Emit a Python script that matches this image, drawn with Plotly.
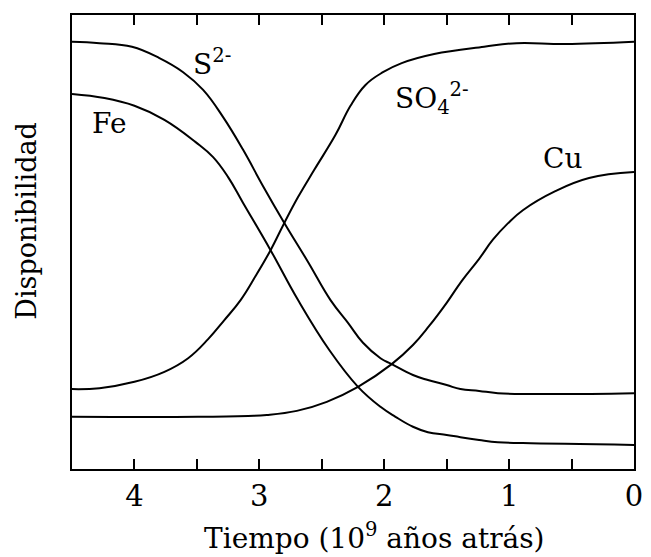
import plotly.graph_objects as go

# Time axis in 10^9 years before present, availability in arbitrary units (0-100)
s2_x = [4.50, 4.28, 4.02, 3.80, 3.61, 3.45, 3.29, 3.13, 2.97, 2.80, 2.61, 2.43,
        2.29, 2.17, 2.03, 1.94, 1.77, 1.65, 1.50, 1.39, 1.24, 1.09, 0.65, 0.0]
s2_y = [94.1, 93.8, 93.0, 90.5, 87.4, 83.5, 77.5, 70.3, 62.3, 54.2, 45.6, 37.2,
        32.2, 27.8, 24.4, 23.1, 20.7, 19.6, 18.5, 17.6, 17.2, 16.7, 16.5, 16.7]

fe_x = [4.50, 4.24, 4.00, 3.76, 3.51, 3.37, 3.25, 3.13, 2.91, 2.69, 2.44,
        2.21, 2.03, 1.91, 1.77, 1.65, 1.50, 1.39, 1.24, 1.09, 0.89, 0.0]
fe_y = [82.6, 81.7, 80.0, 76.9, 72.0, 68.7, 64.3, 58.6, 48.2, 37.2, 26.2,
        18.1, 13.7, 11.5, 9.3, 8.1, 7.5, 7.0, 6.4, 5.9, 5.7, 5.3]

so4_x = [4.50, 4.28, 4.00, 3.76, 3.57, 3.41, 3.28, 3.15, 3.03, 2.91, 2.80, 2.69,
         2.56, 2.39, 2.27, 2.15, 2.01, 1.86, 1.60, 1.20, 0.94, 0.55, 0.0]
so4_y = [17.6, 17.8, 19.2, 21.4, 24.4, 28.6, 32.8, 37.2, 42.5, 48.2, 54.2, 59.9,
         65.9, 73.6, 80.0, 84.6, 87.4, 89.4, 91.4, 93.0, 93.8, 93.6, 94.1]

cu_x = [4.50, 3.49, 3.09, 2.94, 2.70, 2.46, 2.21, 1.94, 1.77, 1.64, 1.50,
        1.38, 1.24, 1.13, 1.01, 0.89, 0.63, 0.36, 0.0]
cu_y = [11.5, 11.5, 11.7, 11.9, 12.8, 14.8, 18.1, 23.1, 27.3, 31.5, 36.6,
        41.4, 46.3, 50.5, 54.1, 57.0, 61.2, 64.1, 65.4]

tick_vals = [4, 3, 2, 1, 0]
tick_text = ["4", "3", "2", "1", "0"]
minor_vals = [4.5, 3.5, 2.5, 1.5, 0.5]

labels = [
    ("S<sup>2-</sup>", 3.38, 89.6),
    ("Fe", 4.20, 76.0),
    ("SO<sub>4</sub><sup>2-</sup>", 1.62, 81.7),
    ("Cu", 0.57, 68.5),
]

x_title = "Tiempo (10<sup>9</sup> años atrás)"
y_title = "Disponibilidad"

FONT = "DejaVu Serif"
line_style = dict(color="black", width=2, shape="spline", smoothing=1.2)

fig = go.Figure()
for xs, ys in [(s2_x, s2_y), (fe_x, fe_y), (so4_x, so4_y), (cu_x, cu_y)]:
    fig.add_trace(go.Scatter(x=xs, y=ys, mode="lines", line=line_style,
                             showlegend=False, hoverinfo="skip"))

for text, lx, ly in labels:
    fig.add_annotation(x=lx, y=ly, text=text, showarrow=False,
                       font=dict(family=FONT, size=28, color="black"))

# Axis titles placed as free text in paper coordinates
fig.add_annotation(xref="paper", yref="paper", x=0.539, y=-0.104,
                   xanchor="center", yanchor="top", text=x_title, showarrow=False,
                   font=dict(family=FONT, size=28, color="black"))
fig.add_annotation(xref="paper", yref="paper", x=-0.081, y=0.548,
                   xanchor="center", yanchor="middle", textangle=-90,
                   text=y_title, showarrow=False,
                   font=dict(family=FONT, size=27, color="black"))

fig.update_layout(
    width=651, height=557,
    margin=dict(l=72, r=8, t=15, b=88),
    paper_bgcolor="white", plot_bgcolor="white",
    font=dict(family=FONT, color="black", size=28),
    xaxis=dict(
        range=[4.5, 0], tickvals=tick_vals, ticktext=tick_text,
        ticks="inside", ticklen=10, tickwidth=2, tickcolor="black",
        minor=dict(tickvals=minor_vals, ticks="inside", ticklen=10,
                   tickwidth=2, tickcolor="black"),
        showline=True, linecolor="black", linewidth=2, mirror="ticks",
        showgrid=False, zeroline=False,
        tickfont=dict(family=FONT, size=29),
    ),
    yaxis=dict(
        range=[0, 100], showticklabels=False, ticks="",
        showline=True, linecolor="black", linewidth=2, mirror=True,
        showgrid=False, zeroline=False,
    ),
)

fig.write_html("out.html")
